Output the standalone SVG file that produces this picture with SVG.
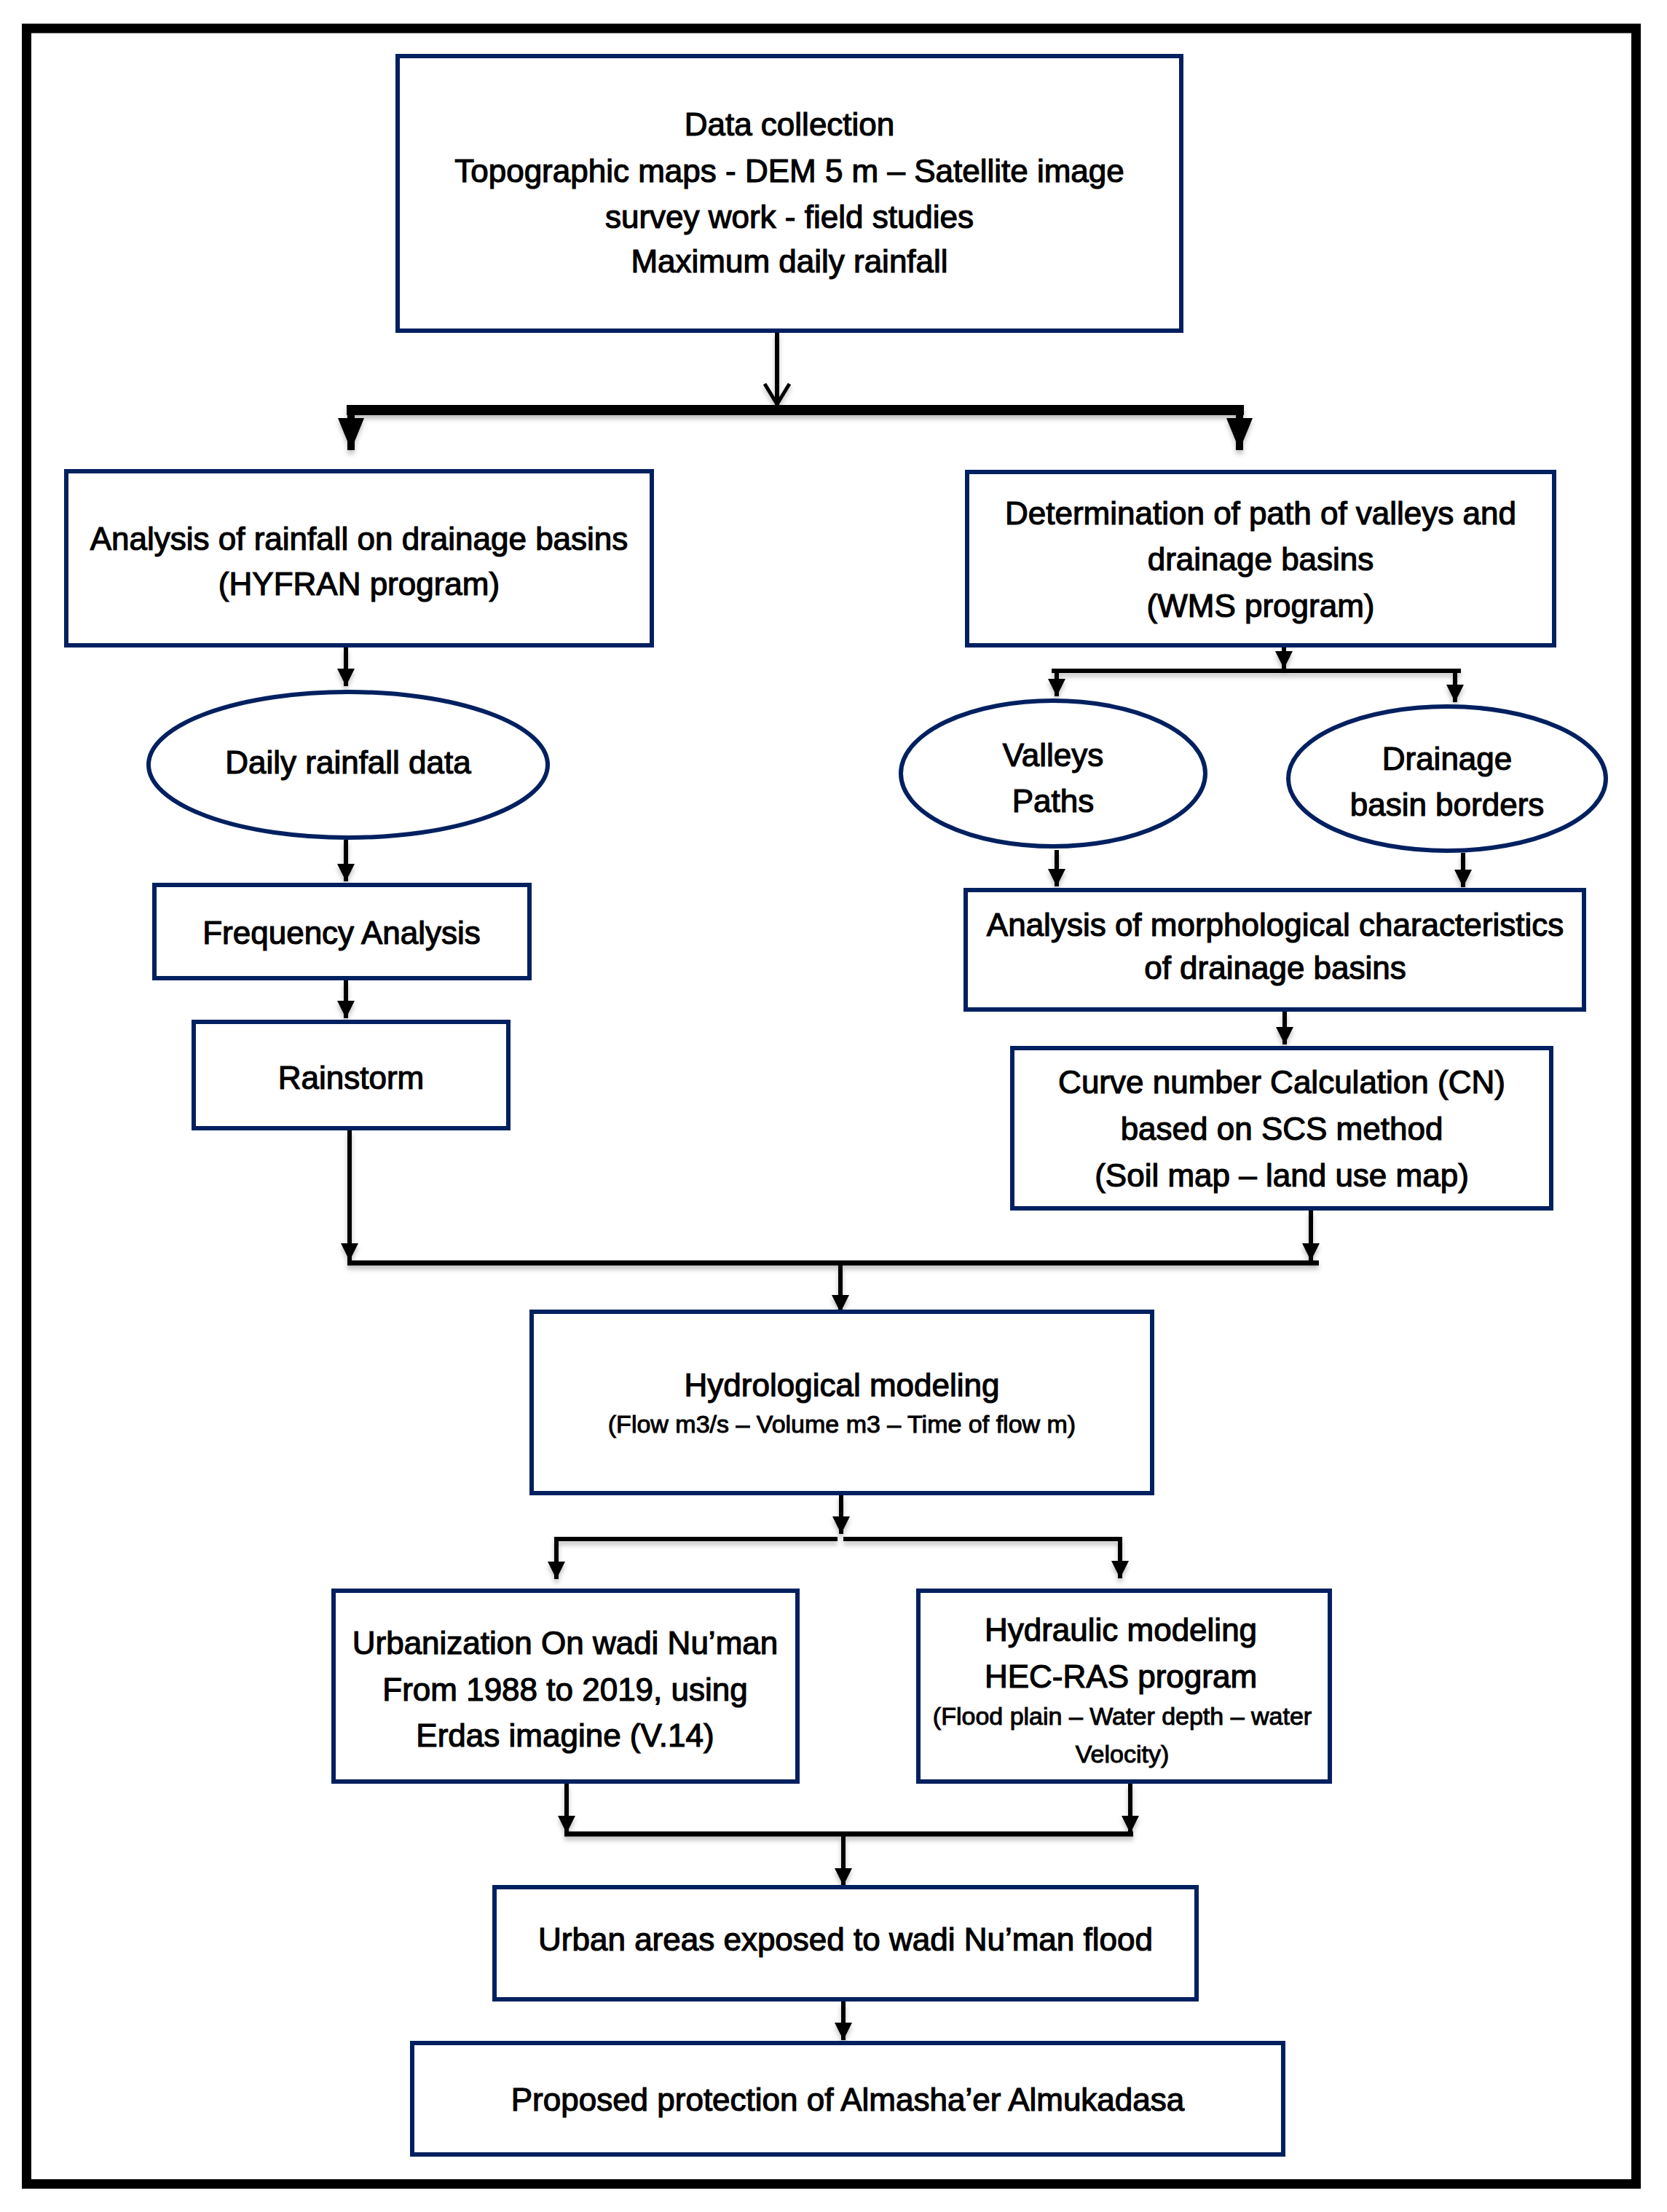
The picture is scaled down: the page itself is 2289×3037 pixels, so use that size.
<svg xmlns="http://www.w3.org/2000/svg" width="2289" height="3037" viewBox="0 0 2289 3037">
<style>
.box{fill:#fff;stroke:#002060;stroke-width:6}
.t{font-family:"Liberation Sans",Arial,sans-serif;font-size:44px;text-anchor:middle;fill:#000;stroke:#000;stroke-width:1.2px}
.s{font-size:34px;stroke-width:1px}
.ln{stroke:#000;stroke-width:6;fill:none}
.bar{stroke:#000;fill:none}
</style>
<defs>
<filter id="sh" filterUnits="userSpaceOnUse" x="0" y="0" width="2289" height="3037">
<feDropShadow dx="0" dy="5" stdDeviation="3" flood-color="#000" flood-opacity="0.25"/>
</filter>
<marker id="ah" markerUnits="userSpaceOnUse" viewBox="0 0 24 24" refX="24" refY="12" markerWidth="24" markerHeight="24" orient="auto">
<path d="M0,0 L24,12 L0,24 z" fill="#000"/>
</marker>
<marker id="big" markerUnits="userSpaceOnUse" viewBox="0 0 44 36" refX="44" refY="18" markerWidth="44" markerHeight="36" orient="auto">
<path d="M0,0 L44,18 L0,36 z" fill="#000"/>
</marker>
<marker id="open" markerUnits="userSpaceOnUse" viewBox="0 0 32 40" refX="30" refY="20" markerWidth="32" markerHeight="40" orient="auto" overflow="visible">
<path d="M1,3 L29,20 L1,37" fill="none" stroke="#000" stroke-width="5"/>
</marker>
</defs>
<rect width="2289" height="3037" fill="#fff"/>
<rect id="frame" x="36.5" y="39" width="2210" height="2959.5" fill="none" stroke="#000" stroke-width="13"/>

<g id="connectors" filter="url(#sh)">
<path class="ln" stroke-width="7" d="M1067,457 V556" marker-end="url(#open)"/>
<path class="bar" stroke-width="14" d="M476,563 H1708"/>
<path class="bar" stroke-width="10" d="M482,563 V618" marker-end="url(#big)"/>
<path class="bar" stroke-width="10" d="M1702,563 V618" marker-end="url(#big)"/>
<path class="ln" d="M475,889 V942" marker-end="url(#ah)"/>
<path class="ln" d="M475,1153 V1210" marker-end="url(#ah)"/>
<path class="ln" d="M475,1346 V1398" marker-end="url(#ah)"/>
<path class="ln" d="M480,1552 V1731" marker-end="url(#ah)"/>
<path class="ln" d="M1800,1662 V1731" marker-end="url(#ah)"/>
<path class="bar" stroke-width="7" d="M477,1734 H1811"/>
<path class="ln" d="M1154,1734 V1802" marker-end="url(#ah)"/>
<path class="ln" d="M1763,889 V918" marker-end="url(#ah)"/>
<path class="bar" stroke-width="6" d="M1444,921 H2006"/>
<path class="ln" d="M1451,921 V956" marker-end="url(#ah)"/>
<path class="ln" d="M1998,921 V964" marker-end="url(#ah)"/>
<path class="ln" d="M1451,1167 V1217" marker-end="url(#ah)"/>
<path class="ln" d="M2009,1171 V1218" marker-end="url(#ah)"/>
<path class="ln" d="M1764,1389 V1434" marker-end="url(#ah)"/>
<path class="ln" d="M1155,2053 V2106" marker-end="url(#ah)"/>
<path class="bar" stroke-width="6" d="M761,2113 H1150 M1158,2113 H1541"/>
<path class="ln" d="M764,2113 V2168" marker-end="url(#ah)"/>
<path class="ln" d="M1538,2113 V2167" marker-end="url(#ah)"/>
<path class="ln" d="M778,2449 V2517" marker-end="url(#ah)"/>
<path class="ln" d="M1552,2449 V2517" marker-end="url(#ah)"/>
<path class="bar" stroke-width="7" d="M775,2518 H1556"/>
<path class="ln" d="M1158,2518 V2589" marker-end="url(#ah)"/>
<path class="ln" d="M1158,2748 V2801" marker-end="url(#ah)"/>
</g>

<g id="n-data">
<rect class="box" x="546" y="77" width="1076" height="377"/>
<text class="t" x="1084" y="186">Data collection</text>
<text class="t" x="1084" y="250">Topographic maps - DEM 5 m – Satellite image</text>
<text class="t" x="1084" y="313">survey work - field studies</text>
<text class="t" x="1084" y="374">Maximum daily rainfall</text>
</g>
<g id="n-rainfall">
<rect class="box" x="91" y="647" width="804" height="239"/>
<text class="t" x="493" y="755">Analysis of rainfall on drainage basins</text>
<text class="t" x="493" y="817">(HYFRAN program)</text>
</g>
<g id="n-valleys-det">
<rect class="box" x="1328" y="648" width="806" height="238"/>
<text class="t" x="1731" y="720">Determination of path of valleys and</text>
<text class="t" x="1731" y="783">drainage basins</text>
<text class="t" x="1731" y="847">(WMS program)</text>
</g>
<g id="n-daily">
<ellipse class="box" cx="478" cy="1050" rx="274" ry="100"/>
<text class="t" x="478" y="1062">Daily rainfall data</text>
</g>
<g id="n-valleys">
<ellipse class="box" cx="1446" cy="1062" rx="209" ry="100"/>
<text class="t" x="1446" y="1052">Valleys</text>
<text class="t" x="1446" y="1115">Paths</text>
</g>
<g id="n-drainage">
<ellipse class="box" cx="1987" cy="1069" rx="218" ry="99"/>
<text class="t" x="1987" y="1057">Drainage</text>
<text class="t" x="1987" y="1120">basin borders</text>
</g>
<g id="n-frequency">
<rect class="box" x="212" y="1215" width="515" height="128"/>
<text class="t" x="469" y="1296">Frequency Analysis</text>
</g>
<g id="n-rainstorm">
<rect class="box" x="266" y="1403" width="432" height="146"/>
<text class="t" x="482" y="1495">Rainstorm</text>
</g>
<g id="n-morph">
<rect class="box" x="1326" y="1222" width="849" height="164"/>
<text class="t" x="1751" y="1285">Analysis of morphological characteristics</text>
<text class="t" x="1751" y="1344">of drainage basins</text>
</g>
<g id="n-cn">
<rect class="box" x="1390" y="1439" width="740" height="220"/>
<text class="t" x="1760" y="1501">Curve number Calculation (CN)</text>
<text class="t" x="1760" y="1565">based on SCS method</text>
<text class="t" x="1760" y="1629">(Soil map – land use map)</text>
</g>
<g id="n-hydro">
<rect class="box" x="730" y="1801" width="852" height="249"/>
<text class="t" x="1156" y="1917">Hydrological modeling</text>
<text class="t s" x="1156" y="1967">(Flow m3/s – Volume m3 – Time of flow m)</text>
</g>
<g id="n-urban">
<rect class="box" x="458" y="2184" width="637" height="262"/>
<text class="t" x="776" y="2271">Urbanization On wadi Nu’man</text>
<text class="t" x="776" y="2335">From 1988 to 2019, using</text>
<text class="t" x="776" y="2398">Erdas imagine (V.14)</text>
</g>
<g id="n-hydraulic">
<rect class="box" x="1261" y="2184" width="565" height="262"/>
<text class="t" x="1539" y="2253">Hydraulic modeling</text>
<text class="t" x="1539" y="2317">HEC-RAS program</text>
<text class="t s" x="1541" y="2368">(Flood plain – Water depth – water</text>
<text class="t s" x="1541" y="2420">Velocity)</text>
</g>
<g id="n-exposed">
<rect class="box" x="679" y="2591" width="964" height="154"/>
<text class="t" x="1161" y="2678">Urban areas exposed to wadi Nu’man flood</text>
</g>
<g id="n-protection">
<rect class="box" x="566" y="2805" width="1196" height="153"/>
<text class="t" x="1164" y="2898">Proposed protection of Almasha’er Almukadasa</text>
</g>
</svg>
